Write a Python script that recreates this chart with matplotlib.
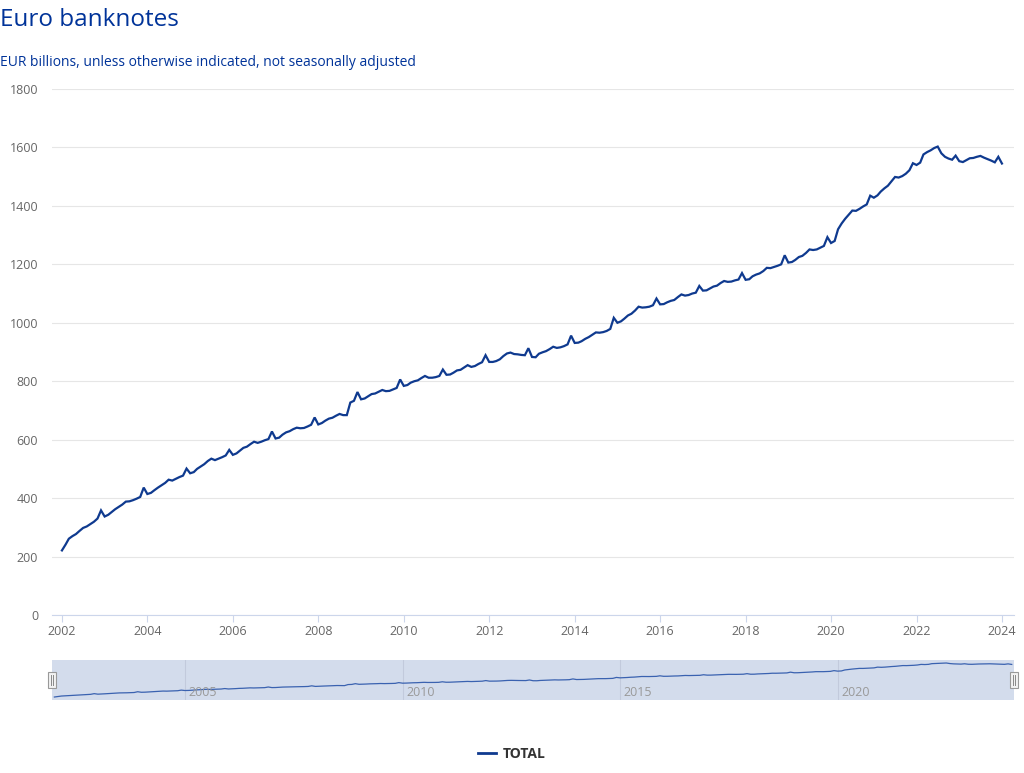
import numpy as np
import matplotlib
matplotlib.use("Agg")
import matplotlib.pyplot as plt
import matplotlib.dates as mdates
from matplotlib.lines import Line2D
from matplotlib.patches import Rectangle

plt.rcParams['font.family'] = ['Open Sans', 'DejaVu Sans']

# Euro banknotes in circulation, EUR billions, monthly Jan 2002 - Jan 2024
months = np.arange('2002-01', '2024-02', dtype='datetime64[M]')
total = [
    221, 241, 261, 270, 277, 288, 298, 303, 311, 319, 330, 358,   # 2002
    337, 343, 352, 362, 370, 378, 388, 389, 393, 398, 404, 436,   # 2003
    414, 418, 427, 436, 444, 452, 463, 460, 466, 472, 477, 501,   # 2004
    485, 489, 500, 508, 516, 527, 535, 530, 535, 540, 546, 565,   # 2005
    548, 553, 562, 572, 576, 585, 593, 589, 593, 598, 602, 628,   # 2006
    604, 607, 617, 625, 629, 636, 641, 639, 640, 645, 651, 676,   # 2007
    652, 657, 665, 672, 675, 682, 688, 684, 684, 727, 733, 763,   # 2008
    738, 741, 748, 756, 758, 764, 770, 766, 767, 772, 777, 806,   # 2009
    784, 787, 795, 800, 803, 811, 818, 812, 812, 814, 818, 840,   # 2010
    822, 823, 829, 837, 839, 847, 855, 849, 852, 859, 865, 889,   # 2011
    866, 866, 869, 875, 886, 895, 898, 893, 892, 890, 889, 913,   # 2012
    883, 882, 894, 899, 903, 910, 918, 914, 916, 920, 926, 956,   # 2013
    931, 932, 937, 945, 951, 959, 967, 966, 968, 972, 979, 1017,  # 2014
    1000, 1005, 1014, 1025, 1031, 1042, 1055, 1052, 1053, 1055, 1060, 1083,  # 2015
    1063, 1064, 1070, 1075, 1078, 1088, 1097, 1093, 1095, 1100, 1103, 1126,  # 2016
    1110, 1111, 1117, 1124, 1127, 1136, 1143, 1140, 1141, 1145, 1148, 1170,  # 2017
    1147, 1149, 1159, 1165, 1169, 1177, 1188, 1187, 1191, 1195, 1200, 1231,  # 2018
    1206, 1208, 1215, 1225, 1229, 1239, 1251, 1249, 1251, 1257, 1263, 1293,  # 2019
    1273, 1280, 1320, 1340, 1356, 1370, 1384, 1383, 1390, 1398, 1405, 1435,  # 2020
    1428, 1436, 1449, 1460, 1469, 1484, 1499, 1497, 1502, 1510, 1522, 1546,  # 2021
    1540, 1548, 1576, 1584, 1590, 1598, 1603, 1580, 1568, 1562, 1558, 1572,  # 2022
    1553, 1550, 1556, 1563, 1564, 1568, 1571, 1565, 1560, 1555, 1549, 1568,  # 2023
    1545,                                                          # 2024
]
y_ticks = [0, 200, 400, 600, 800, 1000, 1200, 1400, 1600, 1800]
nav_years = [2005, 2010, 2015, 2020]

line_color = '#0f3a8f'
title_color = '#003399'
axis_color = '#ccd6eb'
label_color = '#666666'

fig = plt.figure(figsize=(10.24, 7.73), dpi=100)

fig.text(0.0, 1 - 20 / 773, 'Euro banknotes', fontsize=17.5, color=title_color,
         va='center', ha='left')
fig.text(0.0, 1 - 63 / 773, 'EUR billions, unless otherwise indicated, not seasonally adjusted',
         fontsize=10, color=title_color, va='center', ha='left')

# main chart
ax = fig.add_axes([52 / 1024, 1 - 615 / 773, 962 / 1024, 526 / 773])
ax.plot(months, total, color=line_color, lw=1.6, solid_joinstyle='miter')
ax.set_ylim(0, 1800)
ax.set_yticks(y_ticks)
ax.set_xlim(np.datetime64('2001-10-08'), np.datetime64('2024-04-13'))
ax.xaxis.set_major_locator(mdates.YearLocator(2))
ax.xaxis.set_major_formatter(mdates.DateFormatter('%Y'))
ax.grid(axis='y', color='#e6e6e6', lw=0.8)
ax.set_axisbelow(True)
for side in ['top', 'right', 'left']:
    ax.spines[side].set_visible(False)
ax.spines['bottom'].set_color(axis_color)
ax.tick_params(axis='y', length=0, pad=10, labelsize=9, labelcolor=label_color)
ax.tick_params(axis='x', length=5, color=axis_color, pad=2, labelsize=9, labelcolor=label_color)

# navigator
nav = fig.add_axes([52 / 1024, 1 - 700 / 773, 962 / 1024, 40 / 773])
nav.set_facecolor('#d3dcec')
nav.plot(months, total, color='#3a62b0', lw=0.9)
nav.set_xlim(np.datetime64('2001-12-12'), np.datetime64('2024-01-20'))
nav.set_ylim(100, 1725)
nav.set_xticks([])
nav.set_yticks([])
for side in nav.spines:
    nav.spines[side].set_visible(False)
for yr in nav_years:
    d = np.datetime64(f'{yr}-01-01')
    nav.axvline(d, color='#c2cadc', lw=0.8, zorder=0)
    nav.annotate(str(yr), xy=(mdates.date2num(d), 0), xycoords=('data', 'axes fraction'),
                 xytext=(2.5, 1), textcoords='offset points', fontsize=9, color='#999999',
                 ha='left', va='bottom')

# navigator handles
for hx in [52, 1014]:
    fig.patches.append(Rectangle(((hx - 4) / 1024, 1 - 688 / 773), 8 / 1024, 16 / 773,
                                 transform=fig.transFigure, facecolor='#f2f2f2',
                                 edgecolor='#999999', lw=0.8))
    for off in (-1.3, 1.3):
        fig.lines.append(Line2D([(hx + off) / 1024] * 2, [1 - 685 / 773, 1 - 675 / 773],
                                transform=fig.transFigure, color='#888888', lw=0.7))

# legend
handle = Line2D([], [], color=line_color, lw=2)
leg = fig.legend([handle], ['TOTAL'], loc='center', bbox_to_anchor=(0.5, 1 - 754 / 773),
                 frameon=False, handlelength=1.3, handletextpad=0.5,
                 prop={'weight': 'bold', 'size': 10})
for t in leg.get_texts():
    t.set_color('#333333')

fig.savefig('out.png', dpi=100)
